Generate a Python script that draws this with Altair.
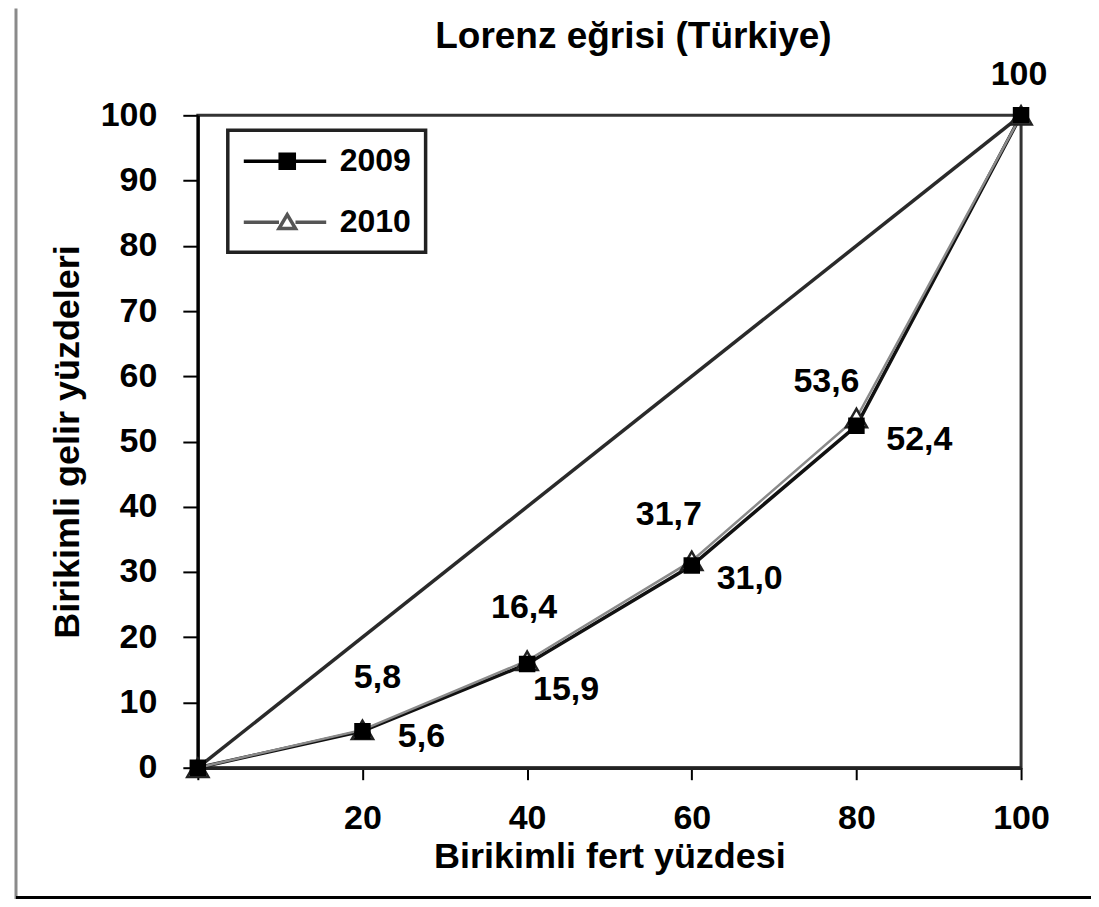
import altair as alt
import pandas as pd

# ---- data ----
pop_share = [0, 20, 40, 60, 80, 100]
income_2009 = [0, 5.6, 15.9, 31.0, 52.4, 100]
income_2010 = [0, 5.8, 16.4, 31.7, 53.6, 100]
equality = [0, 100]
years = ["2009", "2010"]
y_ticks = [0, 10, 20, 30, 40, 50, 60, 70, 80, 90, 100]
x_ticks = [0, 20, 40, 60, 80, 100]

# label offsets (pixels) for the value labels
dx_2009 = [0, 59, 39, 58, 63, 0]
dy_2009 = [0, 6, 26, 14, 14, 0]
dx_2010 = [0, 15, -3, -23, -30, -2]
dy_2010 = [0, -52, -53, -46, -36, -40]
show_2009 = [False, True, True, True, True, False]
show_2010 = [False, True, True, True, True, True]

FONT = "Liberation Sans"
W, H = 824, 653

def fmt(v):
    return "100" if v == 100 else f"{v:.1f}".replace(".", ",")

df09 = pd.DataFrame({"x": pop_share, "y": income_2009})
df10 = pd.DataFrame({"x": pop_share, "y": income_2010})
dfeq = pd.DataFrame({"x": equality, "y": equality})

xs = alt.Scale(domain=[0, 100], nice=False, zero=False)
ys = alt.Scale(domain=[0, 100], nice=False, zero=False)

x_enc = alt.X("x:Q", scale=xs, axis=alt.Axis(
    values=x_ticks, title="Birikimli fert yüzdesi",
    labelExpr="datum.value == 0 ? '' : datum.label",
    grid=False, domainColor="#222222", domainWidth=3.5, tickColor="black", tickWidth=2,
    tickSize=12, labelPadding=22, labelFont=FONT, labelFontSize=34, labelFontWeight="bold",
    labelColor="black", titleFont=FONT, titleFontSize=36, titleFontWeight="bold",
    titleColor="black", titlePadding=4, labelFlush=False))
y_enc = alt.Y("y:Q", scale=ys, axis=alt.Axis(
    values=y_ticks, title="Birikimli gelir yüzdeleri",
    grid=False, domainColor="black", domainWidth=3, tickColor="black", tickWidth=2,
    tickSize=15, labelPadding=26, labelFont=FONT, labelFontSize=34, labelFontWeight="bold",
    labelColor="black", titleFont=FONT, titleFontSize=36, titleFontWeight="bold",
    titleColor="black", titlePadding=14, labelFlush=False))

eq_line = alt.Chart(dfeq).mark_line(color="#2a2a2a", strokeWidth=3.5).encode(x=x_enc, y=y_enc)
line09 = alt.Chart(df09).mark_line(color="#111111", strokeWidth=3.5).encode(x="x:Q", y="y:Q")
line10 = alt.Chart(df10).mark_line(color="#8a8a8a", strokeWidth=2.5).encode(x="x:Q", y="y:Q")
tri10 = alt.Chart(df10).mark_point(shape="triangle-up", filled=True, fill="white",
                                   stroke="#222222", strokeWidth=2.5, size=450,
                                   opacity=1).encode(x="x:Q", y="y:Q")
sq09 = alt.Chart(df09).mark_point(shape="square", filled=True, fill="black",
                                  stroke="black", size=210, opacity=1).encode(x="x:Q", y="y:Q")

labels = []
for xv, yv, dx, dy, show in zip(pop_share, income_2009, dx_2009, dy_2009, show_2009):
    if show:
        labels.append(alt.Chart(pd.DataFrame({"x": [xv], "y": [yv], "t": [fmt(yv)]}))
                      .mark_text(font=FONT, fontSize=34, fontWeight="bold", color="black",
                                 dx=dx, dy=dy, align="center", baseline="middle")
                      .encode(x="x:Q", y="y:Q", text="t:N"))
for xv, yv, dx, dy, show in zip(pop_share, income_2010, dx_2010, dy_2010, show_2010):
    if show:
        labels.append(alt.Chart(pd.DataFrame({"x": [xv], "y": [yv], "t": [fmt(yv)]}))
                      .mark_text(font=FONT, fontSize=34, fontWeight="bold", color="black",
                                 dx=dx, dy=dy, align="center", baseline="middle")
                      .encode(x="x:Q", y="y:Q", text="t:N"))

# legend (line + marker symbols); its own marks are invisible
path09 = "M-1,0H4.5M1.43,-0.47H2.37V0.47H1.43Z"
path10 = "M-1,0H1.35M2.45,0H4.5M1.9,-0.5L2.45,0.42H1.35Z"
legend_df = pd.DataFrame({"year": years})
leg = alt.Legend(title=None, orient="none", legendX=30, legendY=15,
                 symbolSize=900, symbolStrokeWidth=3.5, symbolOpacity=1, labelOffset=64,
                 labelFont=FONT, labelFontSize=32, labelFontWeight="bold", labelColor="black",
                 padding=14, rowPadding=28, fillColor="white", strokeColor="#222222")
legend_layer = alt.Chart(legend_df).mark_point(filled=True, size=1, opacity=0).encode(
    x=alt.value(400), y=alt.value(400),
    shape=alt.Shape("year:N", scale=alt.Scale(domain=years, range=[path09, path10]), legend=leg),
    fill=alt.Fill("year:N", scale=alt.Scale(domain=years, range=["black", "white"]), legend=leg),
    stroke=alt.Stroke("year:N", scale=alt.Scale(domain=years, range=["black", "#555555"]), legend=leg),
)

# outer page frame lines
frame_v = alt.Chart(pd.DataFrame({"k": [0]})).mark_rule(color="#8a8a8a", strokeWidth=3).encode(
    x=alt.value(-182), y=alt.value(-107), y2=alt.value(790))
frame_h = alt.Chart(pd.DataFrame({"k": [0]})).mark_rule(color="black", strokeWidth=3).encode(
    x=alt.value(-182), x2=alt.value(900), y=alt.value(783))

chart = alt.layer(eq_line, line09, line10, tri10, sq09, *labels, legend_layer, frame_v, frame_h).properties(
    width=W, height=H,
    title=alt.TitleParams("Lorenz eğrisi (Türkiye)", font=FONT, fontSize=37, fontWeight="bold",
                          color="black", anchor="middle", dx=24, offset=-49),
    autosize=alt.AutoSizeParams(type="none"),
    padding={"left": 190, "top": 107, "right": 70, "bottom": 131},
).configure_view(stroke="#333333", strokeWidth=3).configure_legend(strokeWidth=3.5)

chart.save("out.html", embed_options={"renderer": "svg", "actions": False})
